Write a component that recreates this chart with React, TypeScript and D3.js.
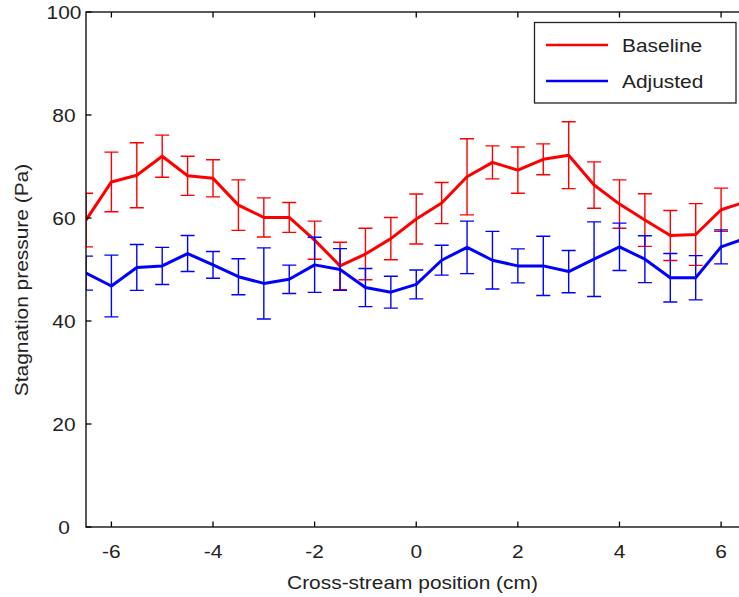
import { useEffect, useRef } from 'react'
import * as d3 from 'd3'

const positions = [-6.5, -6, -5.5, -5, -4.5, -4, -3.5, -3, -2.5, -2, -1.5, -1, -0.5, 0, 0.5, 1, 1.5, 2, 2.5, 3, 3.5, 4, 4.5, 5, 5.5, 6, 6.5]

const baseline = [59.6, 67.0, 68.3, 72.0, 68.2, 67.7, 62.5, 60.1, 60.1, 55.7, 50.7, 53.0, 56.0, 59.8, 62.9, 68.0, 70.8, 69.3, 71.4, 72.2, 66.4, 62.7, 59.6, 56.6, 56.8, 61.6, 63.2]
const baselineErr = [5.2, 5.8, 6.3, 4.1, 3.8, 3.6, 4.9, 3.8, 2.9, 3.7, 4.6, 5.0, 4.1, 4.85, 4.0, 7.4, 3.2, 4.5, 3.0, 6.5, 4.5, 4.7, 5.1, 4.85, 6.0, 4.2, 5.8]

const adjusted = [49.3, 46.8, 50.4, 50.7, 53.1, 50.9, 48.6, 47.3, 48.1, 50.9, 50.0, 46.5, 45.6, 47.1, 51.8, 54.3, 51.8, 50.7, 50.7, 49.6, 52.0, 54.4, 52.0, 48.4, 48.4, 54.4, 56.1]
const adjustedErr = [3.3, 6.0, 4.45, 3.6, 3.5, 2.6, 3.5, 6.9, 2.75, 5.35, 4.05, 3.7, 3.1, 2.8, 2.9, 5.1, 5.6, 3.3, 5.75, 4.1, 7.25, 4.6, 4.55, 4.7, 4.3, 3.3, 4.0]

const xTicks = [-6, -4, -2, 0, 2, 4, 6]
const yTicks = [0, 20, 40, 60, 80, 100]

const seriesNames = ['Baseline', 'Adjusted']
const seriesColors = ['#ff0000', '#0000ff']

const FONT = '"Liberation Sans", Arial, Helvetica, sans-serif'

export default function App() {
  const svgRef = useRef<SVGSVGElement | null>(null)

  useEffect(() => {
    const W = 739
    const H = 597
    const left = 86
    const right = 746.5
    const top = 12
    const bottom = 527

    const svg = d3.select(svgRef.current)
    svg.selectAll('*').remove()
    svg.attr('width', W).attr('height', H)

    const x = d3.scaleLinear().domain([-6.5, 6.5]).range([left, right])
    const y = d3.scaleLinear().domain([0, 100]).range([bottom, top])

    svg.append('defs').append('clipPath').attr('id', 'plot-clip')
      .append('rect')
      .attr('x', left).attr('y', top)
      .attr('width', right - left).attr('height', bottom - top)

    const series = [
      { name: seriesNames[0], color: seriesColors[0], values: baseline, errs: baselineErr },
      { name: seriesNames[1], color: seriesColors[1], values: adjusted, errs: adjustedErr }
    ]

    const plot = svg.append('g').attr('clip-path', 'url(#plot-clip)')
    const line = d3.line<number>()
      .x((_, i) => x(positions[i]))
      .y(d => y(d))

    series.forEach(s => {
      const g = plot.append('g')
      const capW = 7
      s.values.forEach((v, i) => {
        const cx = x(positions[i])
        const y1 = y(v + s.errs[i])
        const y0 = y(v - s.errs[i])
        const path = `M${cx},${y0}V${y1}M${cx - capW},${y1}H${cx + capW}M${cx - capW},${y0}H${cx + capW}`
        g.append('path')
          .attr('d', path)
          .attr('fill', 'none')
          .attr('stroke', s.color)
          .attr('stroke-width', 1.4)
      })
      g.append('path')
        .datum(s.values)
        .attr('d', line)
        .attr('fill', 'none')
        .attr('stroke', s.color)
        .attr('stroke-width', 3)
        .attr('stroke-linejoin', 'round')
    })

    // frame + inward ticks
    const axes = svg.append('g').attr('stroke', '#000').attr('stroke-width', 1.3).attr('fill', 'none')
    axes.append('rect')
      .attr('x', left).attr('y', top)
      .attr('width', right - left).attr('height', bottom - top)
    const tl = 5.5
    xTicks.forEach(t => {
      axes.append('line').attr('x1', x(t)).attr('x2', x(t)).attr('y1', bottom).attr('y2', bottom - tl)
      axes.append('line').attr('x1', x(t)).attr('x2', x(t)).attr('y1', top).attr('y2', top + tl)
    })
    yTicks.forEach(t => {
      axes.append('line').attr('x1', left).attr('x2', left + tl).attr('y1', y(t)).attr('y2', y(t))
      axes.append('line').attr('x1', right).attr('x2', right - tl).attr('y1', y(t)).attr('y2', y(t))
    })

    const labels = svg.append('g')
      .attr('font-family', FONT)
      .attr('font-size', '19px')
      .attr('fill', '#222')

    labels.selectAll('.xt')
      .data(xTicks)
      .join('text')
      .attr('class', 'xt')
      .attr('x', d => x(d))
      .attr('y', 558)
      .attr('text-anchor', 'middle')
      .text(d => d)

    labels.selectAll('.yt')
      .data(yTicks)
      .join('text')
      .attr('class', 'yt')
      .attr('x', 64)
      .attr('y', d => y(d) + 7)
      .attr('text-anchor', 'middle')
      .text(d => d)

    labels.append('text')
      .attr('x', 412.5)
      .attr('y', 589)
      .attr('text-anchor', 'middle')
      .text('Cross-stream position (cm)')

    labels.append('text')
      .attr('transform', 'translate(28,280) rotate(-90)')
      .attr('text-anchor', 'middle')
      .text('Stagnation pressure (Pa)')

    // legend
    const lg = svg.append('g')
    lg.append('rect')
      .attr('x', 534.5).attr('y', 22.5)
      .attr('width', 201.5).attr('height', 80.5)
      .attr('fill', '#fff')
      .attr('stroke', '#222')
      .attr('stroke-width', 1.3)
    series.forEach((s, i) => {
      const ly = 45 + i * 36
      lg.append('line')
        .attr('x1', 546).attr('x2', 608)
        .attr('y1', ly).attr('y2', ly)
        .attr('stroke', s.color)
        .attr('stroke-width', 2.5)
      lg.append('text')
        .attr('x', 622)
        .attr('y', ly + 7)
        .attr('font-family', FONT)
        .attr('font-size', '19px')
        .attr('fill', '#222')
        .text(s.name)
    })

    // the original's lettering is a bit wider than Liberation Sans
    svg.selectAll<SVGTextElement, unknown>('text').each(function () {
      const w = this.getComputedTextLength()
      d3.select(this).attr('textLength', w * 1.1).attr('lengthAdjust', 'spacingAndGlyphs')
    })
  }, [])

  return (
    <div style={{ position: 'absolute', left: 0, top: 0, width: 739, height: 597, overflow: 'hidden', background: '#fff' }}>
      <svg ref={svgRef} style={{ display: 'block' }} />
    </div>
  )
}
